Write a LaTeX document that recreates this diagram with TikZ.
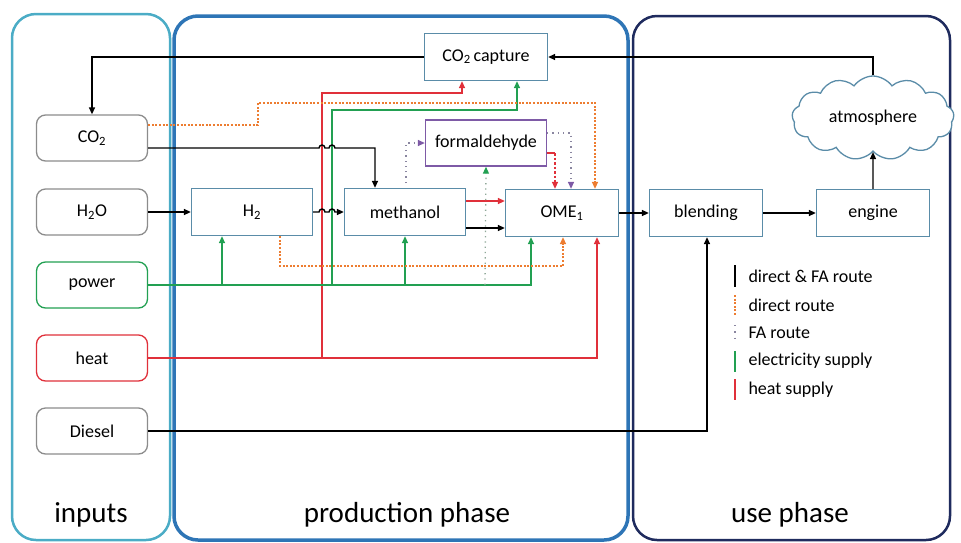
\documentclass[tikz,border=0pt]{standalone}
\usepackage{fontspec}
\setmainfont{Carlito}
\usetikzlibrary{arrows.meta,shapes.symbols,calc}
\definecolor{panelA}{HTML}{4BACC6}
\definecolor{panelB}{HTML}{2E75B6}
\definecolor{panelC}{HTML}{1F2B5E}
\definecolor{boxblue}{HTML}{5A8CA8}
\definecolor{boxgray}{HTML}{8C8C8C}
\definecolor{lgreen}{HTML}{22A052}
\definecolor{lred}{HTML}{E0303A}
\definecolor{lorange}{HTML}{ED7D31}
\definecolor{lpurple}{HTML}{7E5AA6}
\definecolor{fadot}{HTML}{8A86A0}
\definecolor{fgdot}{HTML}{8FA898}
\tikzset{
  panel/.style={rounded corners=24pt, line width=#1},
  inbox/.style={draw=boxgray, rounded corners=9pt, minimum width=111pt, minimum height=46pt, line width=1.3pt, fill=white, font=\fontsize{18}{21}\selectfont},
  pbox/.style={draw=boxblue, minimum width=121pt, minimum height=47pt, line width=1.3pt, fill=white, font=\fontsize{18}{21}\selectfont},
  tip/.style={-{Triangle[length=7pt,width=6pt]}},
  con/.style={line width=1.4pt, black},
  arr/.style={con, tip},
  garr/.style={line width=1.4pt, lgreen, tip},
  rarr/.style={line width=1.4pt, lred, tip},
  oarr/.style={line width=1.5pt, lorange, dash pattern=on 2pt off 1.6pt, tip},
  farr/.style={line width=1.3pt, fadot, dash pattern=on 1.3pt off 4pt, -{Triangle[length=7pt,width=6pt,color=lpurple]}},
  fgarr/.style={line width=1.3pt, fgdot, dash pattern=on 1.3pt off 4pt, -{Triangle[length=7pt,width=6pt,color=lgreen]}},
  legtext/.style={anchor=west, font=\fontsize{18}{21}\selectfont},
  phasetext/.style={font=\fontsize{29}{32}\selectfont}
}
\begin{document}
\begin{tikzpicture}[x=1pt,y=-1pt]
\useasboundingbox (0,0) rectangle (961,542);
% panels
\draw[panel=2.5pt, panelA] (12,14) rectangle (170,540);
\draw[panel=3.5pt, panelB] (174,16) rectangle (628,540);
\draw[panel=2.5pt, panelC] (633,16) rectangle (950,540);
\node[phasetext] (lblin) at (91,515) {inputs};
\node[phasetext] (lblprod) at (407,515) {production phase};
\node[phasetext] (lbluse) at (790,515) {use phase};

% input nodes
\node[inbox] (co2in) at (92,138) {CO\textsubscript{2}};
\node[inbox] (h2oin) at (92,212) {H\textsubscript{2}O};
\node[inbox, draw=lgreen] (powerin) at (92,285) {power};
\node[inbox, draw=lred] (heatin) at (92,358) {heat};
\node[inbox] (dieselin) at (92,431) {Diesel};

% production nodes
\node[pbox, minimum width=123pt] (cap) at (486,57) {CO\textsubscript{2}\,capture};
\node[pbox] (h2) at (252,212) {H\textsubscript{2}};
\node[pbox] (meth) at (405,212) {methanol};
\node[pbox, draw=lpurple, minimum height=46pt] (form) at (486,143) {formaldehyde};
\node[pbox, minimum width=113pt] (ome) at (562,213) {OME\textsubscript{1}};

% use phase nodes
\node[pbox, minimum width=113pt] (blend) at (706,213) {blending};
\node[pbox, minimum width=113pt] (engine) at (873,213) {engine};
\node[cloud, cloud puffs=13, cloud puff arc=110, aspect=2.1, draw=boxblue, line width=1.3pt, fill=white, minimum width=162pt, minimum height=84pt, font=\fontsize{18}{21}\selectfont] (atm) at (873,118) {atmosphere};

% CO2 recycle loop
\draw[arr] (atm.north) |- (cap.east);
\draw[arr] (cap.west) -| (co2in.north);

% heat supply
\draw[rarr] (heatin.east) -| (597,0 |- ome.south);
\draw[rarr] (322,358) -- (322,93) -| (462,0 |- cap.south);
% electricity supply
\draw[garr] (powerin.east) -| (531,0 |- ome.south);
\draw[garr] (222,285) -- (222,0 |- h2.south);
\draw[garr] (405,285) -- (meth.south);
\draw[garr] (332,285) -- (332,110) -| (517,0 |- cap.south);

% CO2 to methanol with hops
\draw[arr] ($(co2in.east)+(0,10)$) -- (319,148) arc (180:360:3) -- (329,148) arc (180:360:3) -- (375,148) -- (375,0 |- meth.north);
% H2O to H2
\draw[arr] (h2oin.east) -- (h2.west);
% H2 to methanol with hops
\draw[arr] (h2.east) -- (319,212) arc (180:360:3) -- (329,212) arc (180:360:3) -- (meth.west);

% direct route (orange dotted)
\draw[oarr] ($(co2in.east)+(0,-13)$) -- (258,125) -- (258,103) -| (595,0 |- ome.north);
\draw[oarr] (280,0 |- h2.south) -- (280,266) -| (563,0 |- ome.south);

% methanol to OME
\draw[rarr] (meth.east |- 0,201) -- (ome.west |- 0,201);
\draw[arr] (meth.east |- 0,228) -- (ome.west |- 0,228);

% FA route
\draw[farr] (406,183) -- (406,143) -- (form.west);
\draw[fgarr] (485,285) -- (form.south);
\draw[line width=1.4pt, lred] (form.east |- 0,153) -- (555,153);
\draw[rarr, dash pattern=on 2.5pt off 2pt] (555,153) -- (555,0 |- ome.north);
\draw[farr] (form.east |- 0,133) -- (571,133) -- (571,0 |- ome.north);

% use phase
\draw[arr] (ome.east) -- (blend.west);
\draw[arr] (blend.east) -- (engine.west);
\draw[arr] (engine.north) -- (atm.south);
\draw[arr] (dieselin.east) -| (707,0 |- blend.south);

% legend
\draw[line width=1.6pt, black] (735,265) coordinate (l1a) -- (735,287) coordinate (l1b);
\node[legtext] (t1) at (745,276) {direct \& FA route};
\draw[line width=1.6pt, lorange, dash pattern=on 2pt off 1.6pt] (735,295) coordinate (l2a) -- (735,316) coordinate (l2b);
\node[legtext] (t2) at (745,305) {direct route};
\draw[line width=1.4pt, fadot, dash pattern=on 1.3pt off 5pt] (735,325) coordinate (l3a) -- (735,342) coordinate (l3b);
\node[legtext] (t3) at (745,333) {FA route};
\draw[line width=1.6pt, lgreen] (735,351) coordinate (l4a) -- (735,372) coordinate (l4b);
\node[legtext] (t4) at (745,361) {electricity supply};
\draw[line width=1.6pt, lred] (735,379) coordinate (l5a) -- (735,400) coordinate (l5b);
\node[legtext] (t5) at (745,390) {heat supply};
\end{tikzpicture}
\end{document}
